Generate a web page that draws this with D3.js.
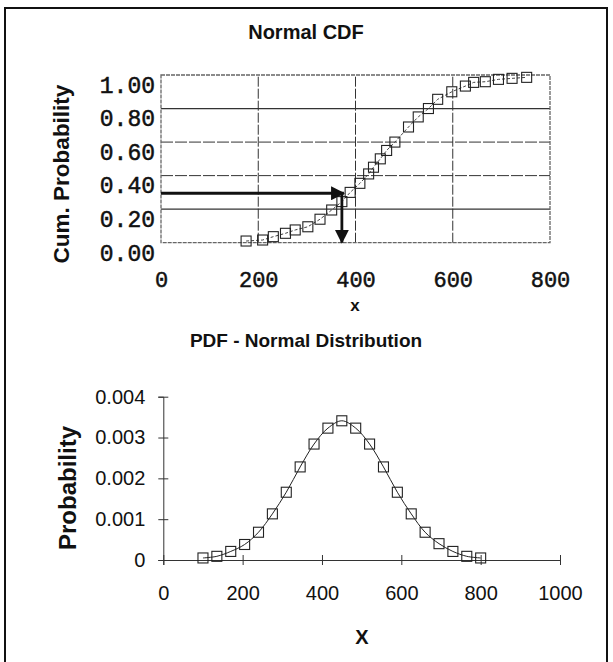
<!DOCTYPE html>
<html>
<head>
<meta charset="utf-8">
<script src="https://cdn.jsdelivr.net/npm/d3@7"></script>
<style>
  body { margin: 0; background: #fff; }
  svg text { font-family: "Liberation Sans", Arial, sans-serif; fill: #111; }
  .mono text { font-family: "Liberation Mono", "DejaVu Sans Mono", monospace; }
</style>
</head>
<body>
<div id="chart"></div>
<script>
// Top panel: cumulative probability points
const cdfX = [175, 209, 231, 256, 276, 302, 327, 351, 372, 389, 409, 427, 437, 451,
              464, 481, 509, 529, 550, 569, 598, 626, 643, 667, 694, 722, 752];
const cdfP = [0.010, 0.016, 0.036, 0.056, 0.076, 0.095, 0.140, 0.195, 0.245, 0.300, 0.354, 0.410, 0.450, 0.500,
              0.550, 0.600, 0.690, 0.750, 0.800, 0.855, 0.900, 0.934, 0.956, 0.960, 0.974, 0.980, 0.986];

// Bottom panel: probability density points
const pdfX = [100, 135, 170, 205, 240, 275, 310, 345, 380, 415, 450,
              485, 520, 555, 590, 625, 660, 695, 730, 765, 800];
const pdfP = [0.00005, 0.00009, 0.00021, 0.00038, 0.00068, 0.00113, 0.00166, 0.00228, 0.00284, 0.00323, 0.00341,
              0.00323, 0.00284, 0.00228, 0.00166, 0.00113, 0.00068, 0.00040, 0.00021, 0.00009, 0.00005];

// tick values
const cdfXTicks = [0, 200, 400, 600, 800];
const cdfYTicks = [0, 0.2, 0.4, 0.6, 0.8, 1.0];
const pdfXTicks = [0, 200, 400, 600, 800, 1000];
const pdfYTicks = [0, 0.001, 0.002, 0.003, 0.004];

// the lookup arrows on the CDF
const arrowX = 372;
const arrowP = 0.295;

const width = 613, height = 662;

const svg = d3.select("#chart")
  .append("svg")
  .attr("width", width)
  .attr("height", height);

// arrowhead
svg.append("defs").append("marker")
  .attr("id", "head")
  .attr("markerUnits", "userSpaceOnUse")
  .attr("viewBox", "0 0 12 12")
  .attr("refX", 11).attr("refY", 6)
  .attr("markerWidth", 14).attr("markerHeight", 14)
  .attr("orient", "auto")
  .append("path")
  .attr("d", "M0,0 L12,6 L0,12 Z")
  .attr("fill", "#111");

// outer frame
svg.append("rect")
  .attr("x", 5).attr("y", 8)
  .attr("width", 602).attr("height", 680)
  .attr("fill", "none")
  .attr("stroke", "#111")
  .attr("stroke-width", 2);

// ---------- Normal CDF ----------
const x1 = d3.scaleLinear().domain([0, 800]).range([161, 550]);
const y1 = d3.scaleLinear().domain([0, 1]).range([242.7, 75]);

svg.append("text")
  .attr("x", 306).attr("y", 39)
  .attr("text-anchor", "middle")
  .style("font-size", "20px").style("font-weight", "bold")
  .text("Normal CDF");

// grid
svg.append("g")
  .selectAll("line")
  .data(cdfYTicks.filter(d => d > 0 && d < 1))
  .join("line")
  .attr("x1", x1(0)).attr("x2", x1(800))
  .attr("y1", d => y1(d)).attr("y2", d => y1(d))
  .attr("stroke", "#333")
  .attr("stroke-width", (d, i) => i % 3 === 0 ? 1.3 : 1)
  .attr("stroke-dasharray", (d, i) => i % 3 === 0 ? null : "12,2");

svg.append("g")
  .selectAll("line")
  .data(cdfXTicks.filter(d => d > 0 && d < 800))
  .join("line")
  .attr("x1", d => x1(d)).attr("x2", d => x1(d))
  .attr("y1", y1(0)).attr("y2", y1(1))
  .attr("stroke", "#333")
  .attr("stroke-dasharray", "10,2");

svg.append("rect")
  .attr("x", x1(0)).attr("y", y1(1))
  .attr("width", x1(800) - x1(0)).attr("height", y1(0) - y1(1))
  .attr("fill", "none")
  .attr("stroke", "#666")
  .attr("stroke-width", 1.3)
  .attr("stroke-dasharray", "4,1");

// axes
const yAx1 = svg.append("g")
  .attr("class", "mono")
  .attr("transform", `translate(${x1(0)},0)`)
  .call(d3.axisLeft(y1).tickValues(cdfYTicks).tickSize(0).tickPadding(6).tickFormat(d3.format(".2f")));
yAx1.select(".domain").remove();
yAx1.selectAll("text").attr("y", 10)
  .style("font-size", "23px").style("fill", "#111")
  .style("stroke", "#111").style("stroke-width", 0.5);

const xAx1 = svg.append("g")
  .attr("class", "mono")
  .attr("transform", `translate(0,${y1(0)})`)
  .call(d3.axisBottom(x1).tickValues(cdfXTicks).tickSize(0).tickPadding(29));
xAx1.select(".domain").remove();
xAx1.selectAll("text")
  .style("font-size", "22px").style("fill", "#111")
  .style("stroke", "#111").style("stroke-width", 0.5);

svg.append("text")
  .attr("transform", "translate(69,174) rotate(-90)")
  .attr("text-anchor", "middle")
  .style("font-size", "22.5px").style("font-weight", "bold")
  .text("Cum. Probability");

svg.append("text")
  .attr("x", 355).attr("y", 311)
  .attr("text-anchor", "middle")
  .style("font-size", "17px").style("font-weight", "bold")
  .text("x");

// dashed connecting line + markers
const cdfData = cdfX.map((d, i) => ({ x: d, p: cdfP[i] }));

svg.append("path")
  .datum(cdfData)
  .attr("fill", "none")
  .attr("stroke", "#444")
  .attr("stroke-width", 1)
  .attr("stroke-dasharray", "3,2")
  .attr("d", d3.line().x(d => x1(d.x)).y(d => y1(d.p)));

svg.append("g")
  .selectAll("rect")
  .data(cdfData)
  .join("rect")
  .attr("x", d => x1(d.x) - 5)
  .attr("y", d => y1(d.p) - 5)
  .attr("width", 10).attr("height", 10)
  .attr("fill", "none")
  .attr("stroke", "#222")
  .attr("stroke-width", 1.1);

// lookup arrows
svg.append("line")
  .attr("x1", x1(0)).attr("x2", x1(arrowX) + 2)
  .attr("y1", y1(arrowP)).attr("y2", y1(arrowP))
  .attr("stroke", "#111").attr("stroke-width", 3.2)
  .attr("marker-end", "url(#head)");

svg.append("line")
  .attr("x1", x1(arrowX)).attr("x2", x1(arrowX))
  .attr("y1", y1(arrowP)).attr("y2", y1(0))
  .attr("stroke", "#111").attr("stroke-width", 2.8)
  .attr("marker-end", "url(#head)");

// ---------- PDF ----------
const x2 = d3.scaleLinear().domain([0, 1000]).range([163.3, 560]);
const y2 = d3.scaleLinear().domain([0, 0.004]).range([560, 396.7]);

svg.append("text")
  .attr("x", 306).attr("y", 347)
  .attr("text-anchor", "middle")
  .style("font-size", "19px").style("font-weight", "bold")
  .text("PDF - Normal Distribution");

const yAx2 = svg.append("g")
  .attr("transform", `translate(${x2(0)},0)`)
  .call(d3.axisLeft(y2).tickValues(pdfYTicks).tickSize(5).tickPadding(13)
    .tickFormat(d => d === 0 ? "0" : d3.format(".3f")(d)));
yAx2.select(".domain").attr("stroke", "#333");
yAx2.selectAll(".tick line").attr("x1", 5).attr("stroke", "#333");
yAx2.selectAll("text").style("font-size", "20px").style("fill", "#111");

const xAx2 = svg.append("g")
  .attr("transform", `translate(0,${y2(0)})`)
  .call(d3.axisBottom(x2).tickValues(pdfXTicks).tickSize(5).tickPadding(21).tickFormat(d3.format("d")));
xAx2.select(".domain").attr("stroke", "#333");
xAx2.selectAll(".tick line").attr("y1", -5).attr("stroke", "#333");
xAx2.selectAll("text").style("font-size", "20px").style("fill", "#111");

svg.append("text")
  .attr("transform", "translate(76,488) rotate(-90)")
  .attr("text-anchor", "middle")
  .style("font-size", "24px").style("font-weight", "bold")
  .text("Probability");

svg.append("text")
  .attr("x", 362).attr("y", 644)
  .attr("text-anchor", "middle")
  .style("font-size", "20px").style("font-weight", "bold")
  .text("X");

const pdfData = pdfX.map((d, i) => ({ x: d, p: pdfP[i] }));

svg.append("path")
  .datum(pdfData)
  .attr("fill", "none")
  .attr("stroke", "#222")
  .attr("stroke-width", 1)
  .attr("d", d3.line().curve(d3.curveCatmullRom).x(d => x2(d.x)).y(d => y2(d.p)));

svg.append("g")
  .selectAll("rect")
  .data(pdfData)
  .join("rect")
  .attr("x", d => x2(d.x) - 5)
  .attr("y", d => y2(d.p) - 5)
  .attr("width", 10).attr("height", 10)
  .attr("fill", "none")
  .attr("stroke", "#222")
  .attr("stroke-width", 1.1);
</script>
</body>
</html>
